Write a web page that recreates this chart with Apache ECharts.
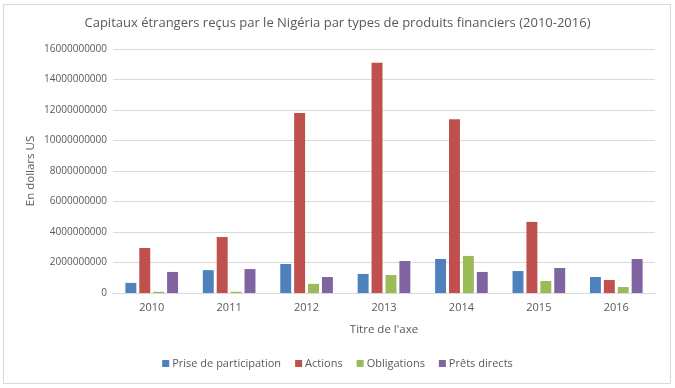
<!DOCTYPE html>
<html><head><meta charset="utf-8">
<script src="https://cdn.jsdelivr.net/npm/echarts@6/dist/echarts.min.js"></script>
<style>html,body{margin:0;padding:0;background:#fff}#c{width:675px;height:388px}</style>
</head><body><div id="c"></div>
<script>
const categories = ['2010','2011','2012','2013','2014','2015','2016'];
const seriesNames = ['Prise de participation','Actions','Obligations','Prêts directs'];
const priseParticipation = [660000000,1500000000,1900000000,1250000000,2230000000,1440000000,1050000000];
const actions = [2950000000,3670000000,11800000000,15100000000,11400000000,4660000000,850000000];
const obligations = [80000000,80000000,600000000,1180000000,2430000000,790000000,390000000];
const pretsDirects = [1380000000,1570000000,1050000000,2100000000,1380000000,1640000000,2230000000];
const colors = ['#4F81BD','#C0504D','#9BBB59','#8064A2'];
const font = '"Open Sans", "Noto Sans", sans-serif';
const txt = '#595959';
const values = [priseParticipation, actions, obligations, pretsDirects];
const chart = echarts.init(document.getElementById('c'));
chart.setOption({
  animation: false,
  textStyle: {fontFamily: font},
  title: {text: 'Capitaux étrangers reçus par le Nigéria par types de produits financiers (2010-2016)', left: 'center', top: 12,
    textStyle: {fontFamily: font, fontSize: 13, fontWeight: 'normal', color: txt}},
  graphic: [{type: 'rect', shape: {x: 3.5, y: 4.5, width: 667, height: 379}, style: {fill: 'none', stroke: '#d9d9d9', lineWidth: 1}, silent: true}],
  legend: {bottom: 14, left: 'center', itemWidth: 7, itemHeight: 7, itemGap: 14, icon: 'rect',
    textStyle: {fontFamily: font, fontSize: 11, color: txt, padding: [0,0,0,-2]}, data: seriesNames},
  grid: {left: 113, right: 20, top: 49, bottom: 95},
  xAxis: {type: 'category', data: categories, name: "Titre de l'axe", nameLocation: 'middle', nameGap: 31,
    nameTextStyle: {fontFamily: font, fontSize: 11.5, color: txt},
    axisLine: {lineStyle: {color: '#d9d9d9'}}, axisTick: {show: false},
    axisLabel: {fontFamily: font, fontSize: 11, color: txt, margin: 9}},
  yAxis: {type: 'value', min: 0, max: 16000000000, interval: 2000000000, name: 'En dollars US', nameLocation: 'middle', nameGap: 76,
    nameMoveOverlap: false,
    nameTextStyle: {fontFamily: font, fontSize: 11.5, color: txt},
    axisLine: {show: false}, axisTick: {show: false},
    splitLine: {lineStyle: {color: '#d9d9d9'}},
    axisLabel: {fontFamily: font, fontSize: 10, color: txt, margin: 6, formatter: v => String(v)}},
  series: seriesNames.map((n, i) => ({name: n, type: 'bar', data: values[i], barGap: '27%', barCategoryGap: '32%',
    itemStyle: {color: colors[i]}}))
});
</script></body></html>
